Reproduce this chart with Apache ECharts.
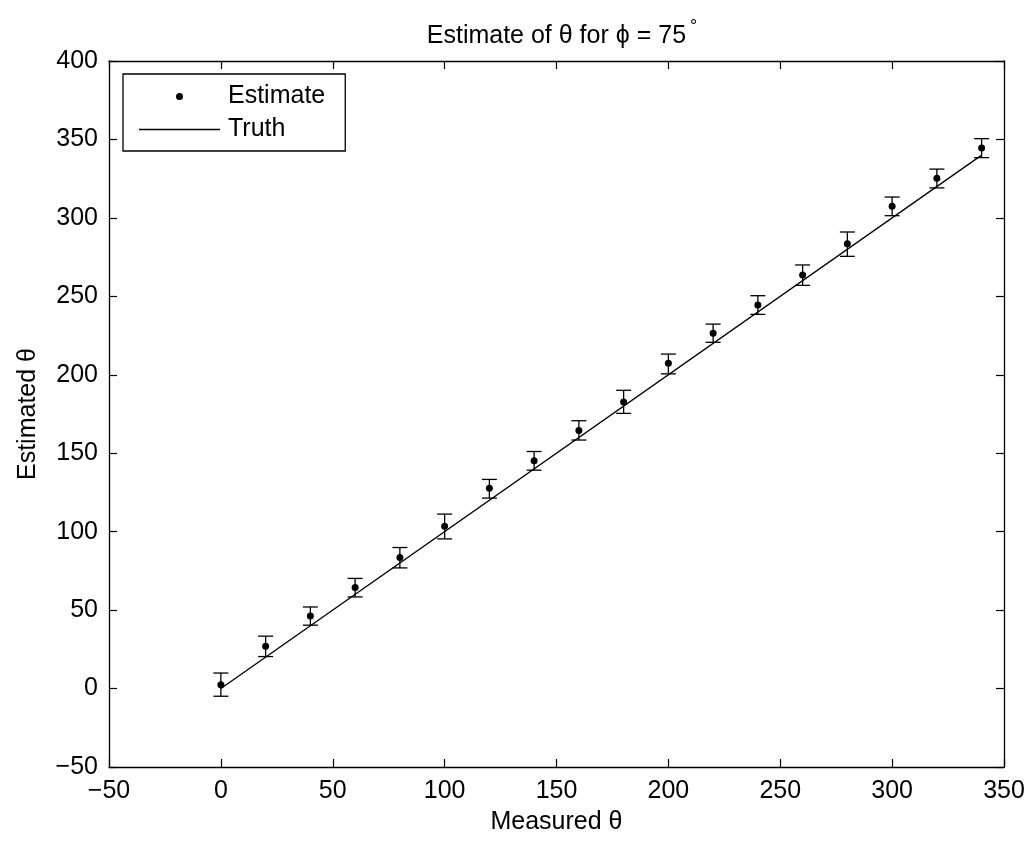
<!DOCTYPE html>
<html>
<head>
<meta charset="utf-8">
<title>Estimate of θ for ϕ = 75°</title>
<script src="https://cdn.jsdelivr.net/npm/echarts@6/dist/echarts.min.js"></script>
<style>
  html, body { margin: 0; padding: 0; background: #ffffff; }
  #chart { width: 1034px; height: 842px; }
</style>
</head>
<body>
<div id="chart"></div>
<script>
// Measured angle (degrees) for each trial group
const measured = [0, 20, 40, 60, 80, 100, 120, 140, 160, 180, 200, 220, 240, 260, 280, 300, 320, 340];
// Mean estimated angle
const estimate = [2.5, 27.0, 46.3, 64.4, 83.5, 103.5, 127.6, 145.2, 164.5, 182.6, 207.3, 226.4, 244.4, 263.6, 283.5, 307.4, 325.3, 344.6];
// Error bar bounds
const upper = [9.9, 33.4, 52.0, 70.2, 89.9, 111.2, 133.3, 151.1, 170.7, 190.1, 213.2, 232.3, 250.4, 270.0, 291.0, 313.3, 331.1, 350.5];
const lower = [-4.9, 20.4, 40.4, 58.4, 76.9, 95.4, 121.4, 139.2, 158.4, 175.4, 200.6, 220.7, 238.5, 257.0, 275.5, 301.4, 319.1, 338.4];
// Reference line: estimate equals truth
const truthX = [0, 340];
const truthY = [0, 340];
// Axis ticks
const xTicks = [-50, 0, 50, 100, 150, 200, 250, 300, 350];
const yTicks = [-50, 0, 50, 100, 150, 200, 250, 300, 350, 400];

const FONT = '"Liberation Sans", Arial, Helvetica, sans-serif';
const FS = 25;
const fmt = v => String(v).replace('-', '\u2212');

const chart = echarts.init(document.getElementById('chart'), null, { renderer: 'canvas' });

const axisCommon = {
  axisLine: { show: true, onZero: false, lineStyle: { color: '#000', width: 1.3 } },
  axisTick: { show: true, inside: true, length: 8, lineStyle: { color: '#000', width: 1.2 } },
  splitLine: { show: false }
};

const option = {
  animation: false,
  backgroundColor: '#ffffff',
  textStyle: { fontFamily: FONT, color: '#000' },
  title: {
    text: '{t|Estimate of θ for ϕ = 75}{d|°}',
    left: 557,
    textAlign: 'center',
    top: 13,
    textStyle: {
      fontWeight: 'normal',
      rich: {
        t: { fontFamily: FONT, fontSize: FS, fontWeight: 'normal', color: '#000', lineHeight: 30 },
        d: { fontFamily: FONT, fontSize: 18, fontWeight: 'normal', color: '#000', padding: [0, 0, 18, 4] }
      }
    }
  },
  grid: { left: 109, top: 61, right: 30, bottom: 75, containLabel: false },
  legend: {
    left: 123,
    top: 74,
    orient: 'vertical',
    backgroundColor: '#fff',
    borderColor: '#000',
    borderWidth: 1.3,
    borderRadius: 0,
    padding: [9, 20, 8, 16],
    itemWidth: 81,
    itemHeight: 7,
    itemGap: 6,
    textStyle: { fontFamily: FONT, fontSize: FS, color: '#000', lineHeight: 27, padding: [0, 0, 0, 3] },
    data: [
      { name: 'Estimate', icon: 'circle' },
      { name: 'Truth', icon: 'path://M0,0H81V1.3H0Z' }
    ]
  },
  xAxis: [
    Object.assign({
      type: 'value',
      position: 'bottom',
      min: xTicks[0],
      max: xTicks[xTicks.length - 1],
      interval: xTicks[1] - xTicks[0],
      name: 'Measured θ',
      nameLocation: 'middle',
      nameGap: 43,
      nameTextStyle: { fontFamily: FONT, fontSize: FS, color: '#000' },
      axisLabel: { fontFamily: FONT, fontSize: FS, color: '#000', margin: 12, formatter: fmt }
    }, axisCommon),
    Object.assign({
      type: 'value',
      position: 'top',
      min: xTicks[0],
      max: xTicks[xTicks.length - 1],
      interval: xTicks[1] - xTicks[0],
      axisLabel: { show: false }
    }, axisCommon)
  ],
  yAxis: [
    Object.assign({
      type: 'value',
      position: 'left',
      min: yTicks[0],
      max: yTicks[yTicks.length - 1],
      interval: yTicks[1] - yTicks[0],
      name: 'Estimated θ',
      nameLocation: 'middle',
      nameGap: 68,
      nameTextStyle: { fontFamily: FONT, fontSize: FS, color: '#000' },
      axisLabel: { fontFamily: FONT, fontSize: FS, color: '#000', margin: 11, formatter: fmt }
    }, axisCommon),
    Object.assign({
      type: 'value',
      position: 'right',
      min: yTicks[0],
      max: yTicks[yTicks.length - 1],
      interval: yTicks[1] - yTicks[0],
      axisLabel: { show: false }
    }, axisCommon)
  ],
  series: [
    {
      name: 'Estimate',
      type: 'scatter',
      symbol: 'circle',
      symbolSize: 7,
      itemStyle: { color: '#000', opacity: 1 },
      data: measured.map((x, i) => [x, estimate[i]]),
      z: 4
    },
    {
      name: 'Truth',
      type: 'line',
      symbol: 'none',
      itemStyle: { color: '#000' },
      lineStyle: { color: '#000', width: 1.3 },
      data: truthX.map((x, i) => [x, truthY[i]]),
      z: 3
    },
    {
      name: 'Error',
      type: 'custom',
      renderItem: function (params, api) {
        const x = api.value(0);
        const top = api.coord([x, api.value(2)]);
        const bot = api.coord([x, api.value(1)]);
        const half = 7.5;
        const style = { stroke: '#000', lineWidth: 1.3, fill: null };
        return {
          type: 'group',
          children: [
            { type: 'line', shape: { x1: top[0], y1: top[1], x2: bot[0], y2: bot[1] }, style: style },
            { type: 'line', shape: { x1: top[0] - half, y1: top[1], x2: top[0] + half, y2: top[1] }, style: style },
            { type: 'line', shape: { x1: bot[0] - half, y1: bot[1], x2: bot[0] + half, y2: bot[1] }, style: style }
          ]
        };
      },
      encode: { x: 0, y: [1, 2] },
      data: measured.map((x, i) => [x, lower[i], upper[i]]),
      z: 2
    }
  ]
};

chart.setOption(option);
</script>
</body>
</html>
